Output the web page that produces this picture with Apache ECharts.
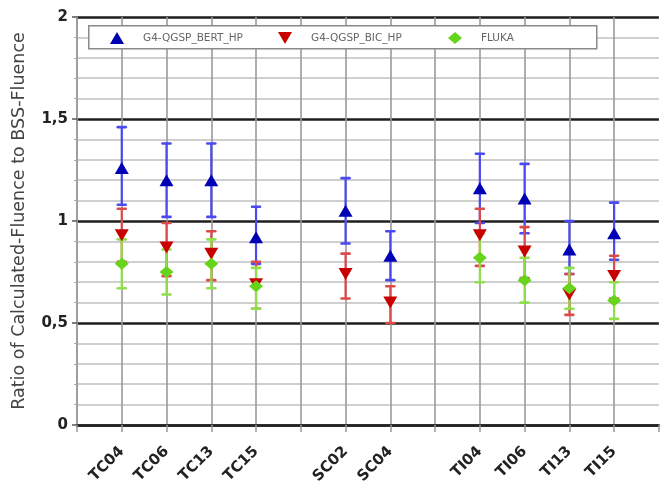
<!DOCTYPE html>
<html>
<head>
<meta charset="utf-8">
<script src="https://cdn.jsdelivr.net/npm/echarts@6/dist/echarts.min.js"></script>
<style>
  html, body { margin: 0; padding: 0; background: #fff; }
  #chart { width: 661px; height: 488px; }
</style>
</head>
<body>
<div id="chart"></div>
<script>
// Measurement sites and their slot on the x axis (gaps separate the groups)
const sites   = ['TC04', 'TC06', 'TC13', 'TC15', 'SC02', 'SC04', 'TI04', 'TI06', 'TI13', 'TI15'];
const sitePos = [1, 2, 3, 4, 6, 7, 9, 10, 11, 12];

// Y tick labels (decimal comma)
const yTickValues = [0, 0.5, 1, 1.5, 2];
const yTickLabels = ['0', '0,5', '1', '1,5', '2'];

// G4-QGSP_BERT_HP
const bertVal  = [1.26, 1.20, 1.20, 0.92, 1.05, 0.83, 1.16, 1.11, 0.86, 0.94];
const bertLow  = [1.08, 1.02, 1.02, 0.79, 0.89, 0.71, 0.99, 0.94, 0.74, 0.81];
const bertHigh = [1.46, 1.38, 1.38, 1.07, 1.21, 0.95, 1.33, 1.28, 1.00, 1.09];

// G4-QGSP_BIC_HP
const bicVal  = [0.93, 0.87, 0.84, 0.69, 0.74, 0.60, 0.93, 0.85, 0.64, 0.73];
const bicLow  = [0.80, 0.73, 0.71, 0.57, 0.62, 0.50, 0.78, 0.72, 0.54, 0.62];
const bicHigh = [1.06, 0.99, 0.95, 0.80, 0.84, 0.68, 1.06, 0.97, 0.74, 0.83];

// FLUKA (no result for the SC sites)
const flukaVal  = [0.79, 0.75, 0.79, 0.68, null, null, 0.82, 0.71, 0.67, 0.61];
const flukaLow  = [0.67, 0.64, 0.67, 0.57, null, null, 0.70, 0.60, 0.57, 0.52];
const flukaHigh = [0.91, 0.86, 0.91, 0.77, null, null, 0.94, 0.82, 0.77, 0.70];

const seriesNames = ['G4-QGSP_BERT_HP', 'G4-QGSP_BIC_HP', 'FLUKA'];

const colors = {
  bert:  { mark: '#0000b4', bar: '#4a4af0' },
  bic:   { mark: '#c80000', bar: '#dd4a4a' },
  fluka: { mark: '#66d41a', bar: '#8ee04a' }
};
const upTriangle   = 'path://M7,0L14,12L0,12Z';
const downTriangle = 'path://M0,0L14,0L7,12Z';
const diamond      = 'path://M7,0L14,6L7,12L0,6Z';

const xLabelAt = {};
sitePos.forEach((p, i) => { xLabelAt[p] = sites[i]; });

function points(vals) {
  return sitePos.map((p, i) => vals[i] == null ? null : [p, vals[i]]).filter(Boolean);
}
function ranges(lows, highs) {
  return sitePos.map((p, i) => lows[i] == null ? null : [p, lows[i], highs[i]]).filter(Boolean);
}

function errorBars(name, lows, highs, color) {
  return {
    type: 'custom',
    name: name,
    silent: true,
    data: ranges(lows, highs),
    encode: { x: 0, y: [1, 2] },
    renderItem: function (params, api) {
      const x = api.value(0);
      const top = api.coord([x, api.value(2)]);
      const bot = api.coord([x, api.value(1)]);
      const half = 4;
      const style = { stroke: color, lineWidth: 2.2, lineCap: 'round' };
      const cap = Object.assign({}, style, { lineWidth: 2.6 });
      return {
        type: 'group',
        children: [
          { type: 'line', shape: { x1: top[0], y1: top[1], x2: bot[0], y2: bot[1] }, style: style },
          { type: 'line', shape: { x1: top[0] - half, y1: top[1], x2: top[0] + half, y2: top[1] }, style: cap },
          { type: 'line', shape: { x1: bot[0] - half, y1: bot[1], x2: bot[0] + half, y2: bot[1] }, style: cap }
        ]
      };
    },
    z: 2
  };
}

function markers(name, vals, symbol, size, color) {
  return {
    type: 'scatter',
    name: name,
    data: points(vals),
    symbol: symbol,
    symbolSize: size,
    itemStyle: { color: color, opacity: 1 },
    z: 3
  };
}

// one legend entry per component so each sits at its own spot inside the framed key
function legendEntry(left, name, icon, color) {
  return {
    left: left,
    top: 32,
    padding: 0,
    itemWidth: 14,
    itemHeight: 12,
    z: 6,
    data: [{ name: name, icon: icon, itemStyle: { color: color } }],
    formatter: function (n) { return '{gap|}{t|' + n + '}'; },
    textStyle: {
      fontFamily: 'DejaVu Sans',
      fontSize: 10.5,
      color: '#666',
      rich: {
        gap: { width: 14 },
        t: { fontFamily: 'DejaVu Sans', fontSize: 10.5, color: '#666' }
      }
    }
  };
}

const chart = echarts.init(document.getElementById('chart'), null, { renderer: 'canvas' });

chart.setOption({
  animation: false,
  backgroundColor: '#ffffff',
  grid: { left: 77, top: 17, width: 585, height: 408, containLabel: false },
  graphic: [{
    type: 'rect',
    left: 88,
    top: 25,
    z: 5,
    shape: { width: 508, height: 23 },
    style: { fill: '#ffffff', stroke: '#8a8a8a', lineWidth: 1.5 }
  }],
  legend: [
    legendEntry(110, seriesNames[0], upTriangle, colors.bert.mark),
    legendEntry(278, seriesNames[1], downTriangle, colors.bic.mark),
    legendEntry(448, seriesNames[2], diamond, colors.fluka.mark)
  ],
  xAxis: {
    type: 'value',
    min: 0,
    max: 13,
    interval: 1,
    axisLine: { show: true, onZero: false, lineStyle: { color: '#222', width: 2.5 } },
    axisTick: { show: true, length: 7, lineStyle: { color: '#999', width: 1.5 } },
    splitLine: { show: true, showMaxLine: false, lineStyle: { color: '#9a9a9a', width: 1.6 } },
    axisLabel: {
      rotate: 45,
      margin: 24,
      fontFamily: 'DejaVu Sans',
      fontWeight: 'bold',
      fontSize: 15,
      color: '#222',
      formatter: function (v) { return xLabelAt[v] || ''; }
    }
  },
  yAxis: {
    type: 'value',
    min: 0,
    max: 2,
    interval: 0.5,
    name: 'Ratio of Calculated-Fluence to BSS-Fluence',
    nameLocation: 'middle',
    nameGap: 49,
    nameTextStyle: { fontFamily: 'DejaVu Sans', fontSize: 17.5, color: '#444' },
    axisLine: { show: true, onZero: false, lineStyle: { color: '#9a9a9a', width: 1.6 } },
    axisTick: { show: true, length: 5, lineStyle: { color: '#555', width: 1.5 } },
    minorTick: { show: true, splitNumber: 5, length: 3, lineStyle: { color: '#aaa', width: 1 } },
    splitLine: { show: true, lineStyle: { color: '#1e1e1e', width: 2.5 } },
    minorSplitLine: { show: true, lineStyle: { color: '#cfcfcf', width: 2 } },
    axisLabel: {
      margin: 9,
      fontFamily: 'DejaVu Sans',
      fontWeight: 'bold',
      fontSize: 15,
      color: '#222',
      formatter: function (v) {
        const i = yTickValues.indexOf(v);
        return i >= 0 ? yTickLabels[i] : '';
      }
    }
  },
  series: [
    errorBars(seriesNames[0], bertLow, bertHigh, colors.bert.bar),
    markers(seriesNames[0], bertVal, upTriangle, [14, 12], colors.bert.mark),
    errorBars(seriesNames[1], bicLow, bicHigh, colors.bic.bar),
    markers(seriesNames[1], bicVal, downTriangle, [14, 12], colors.bic.mark),
    errorBars(seriesNames[2], flukaLow, flukaHigh, colors.fluka.bar),
    markers(seriesNames[2], flukaVal, diamond, [14, 12], colors.fluka.mark)
  ]
});
</script>
</body>
</html>
